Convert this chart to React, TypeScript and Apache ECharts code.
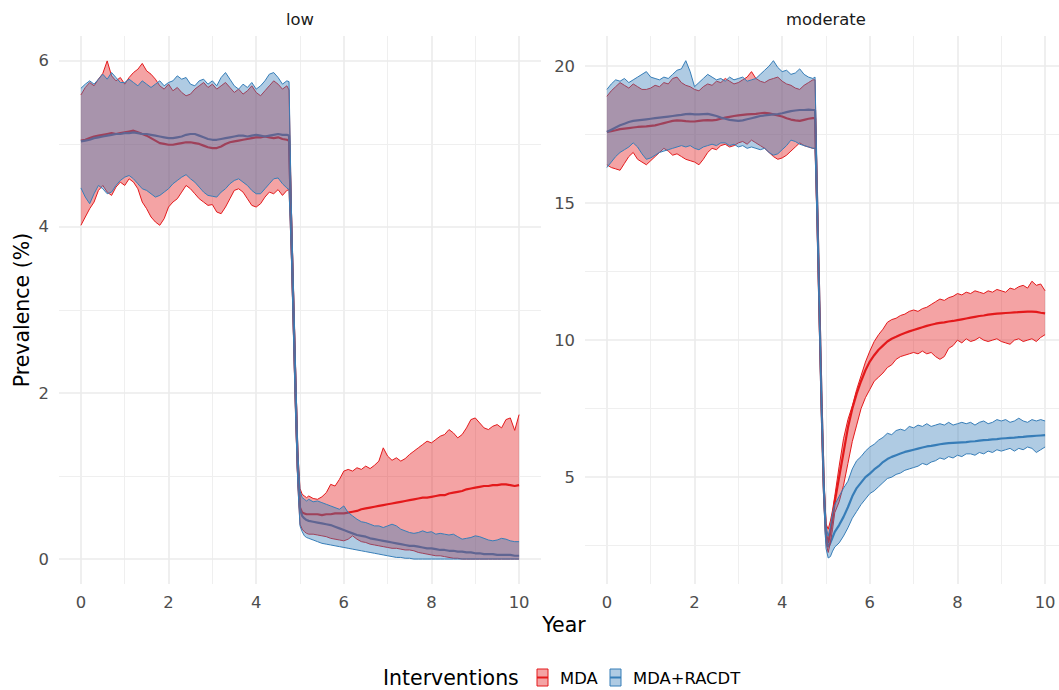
import React, { useEffect, useRef } from 'react';
import * as echarts from 'echarts';

const RED = '#E41A1C';
const BLUE = '#377EB8';
const RED_FILL = 'rgba(228,26,28,0.4)';
const BLUE_FILL = 'rgba(55,126,184,0.4)';
const FONT = 'DejaVu Sans';

const panelTitles = ['low', 'moderate'];
const interventions = ['MDA', 'MDA+RACDT'];
const xMajor = [0, 2, 4, 6, 8, 10];
const xMinor = [1, 3, 5, 7, 9];
const lowYMajor = [0, 2, 4, 6];
const lowYMinor = [1, 3, 5];
const modYMajor = [5, 10, 15, 20];
const modYMinor = [2.5, 7.5, 12.5, 17.5];

const years = [
  0, 0.1, 0.2, 0.3, 0.4, 0.5, 0.6, 0.7, 0.8, 0.9,
  1, 1.1, 1.2, 1.3, 1.4, 1.5, 1.6, 1.7, 1.8, 1.9,
  2, 2.1, 2.2, 2.3, 2.4, 2.5, 2.6, 2.7, 2.8, 2.9,
  3, 3.1, 3.2, 3.3, 3.4, 3.5, 3.6, 3.7, 3.8, 3.9,
  4, 4.1, 4.2, 4.3, 4.4, 4.5, 4.6, 4.7,
  4.75, 4.8, 4.85, 4.9, 4.95, 5, 5.05, 5.1, 5.15, 5.2,
  5.3, 5.4, 5.5, 5.6, 5.7, 5.8, 5.9,
  6, 6.1, 6.2, 6.3, 6.4, 6.5, 6.6, 6.7, 6.8, 6.9,
  7, 7.1, 7.2, 7.3, 7.4, 7.5, 7.6, 7.7, 7.8, 7.9,
  8, 8.1, 8.2, 8.3, 8.4, 8.5, 8.6, 8.7, 8.8, 8.9,
  9, 9.1, 9.2, 9.3, 9.4, 9.5, 9.6, 9.7, 9.8, 9.9,
  10,
];

// ---- low transmission ----
const lowMdaUpper = [
  5.59, 5.68, 5.74, 5.70, 5.78, 5.85, 6.00, 5.82, 5.76, 5.80,
  5.72, 5.80, 5.86, 5.90, 5.97, 5.88, 5.84, 5.78, 5.70, 5.66,
  5.72, 5.64, 5.68, 5.62, 5.58, 5.60, 5.66, 5.70, 5.74, 5.68,
  5.72, 5.66, 5.70, 5.74, 5.68, 5.62, 5.66, 5.60, 5.64, 5.70,
  5.62, 5.58, 5.64, 5.70, 5.76, 5.72, 5.66, 5.70,
  5.65, 4.3, 3.3, 2.3, 1.3, 0.85, 0.78, 0.76, 0.74, 0.76,
  0.73, 0.72, 0.75, 0.80, 0.90, 0.88, 0.96,
  1.06, 1.08, 1.06, 1.10, 1.08, 1.12, 1.09, 1.13, 1.18, 1.34,
  1.24, 1.19, 1.22, 1.18, 1.21, 1.26, 1.30, 1.34, 1.38, 1.42,
  1.40, 1.44, 1.48, 1.50, 1.56, 1.52, 1.46, 1.50, 1.58, 1.68,
  1.70, 1.64, 1.58, 1.56, 1.60, 1.62, 1.58, 1.68, 1.70, 1.55,
  1.74,
];
const lowMdaMedian = [
  5.04, 5.05, 5.07, 5.09, 5.10, 5.11, 5.12, 5.13, 5.12, 5.13,
  5.14, 5.15, 5.16, 5.14, 5.12, 5.10, 5.07, 5.04, 5.01, 5.00,
  4.99, 4.99, 5.00, 5.01, 5.02, 5.02, 5.01, 5.00, 4.98, 4.96,
  4.95, 4.95, 4.97, 5.00, 5.02, 5.03, 5.04, 5.05, 5.06, 5.07,
  5.08, 5.08, 5.09, 5.08, 5.07, 5.08, 5.06, 5.05,
  5.04, 4.0, 3.0, 2.0, 1.1, 0.62, 0.56, 0.55, 0.54, 0.54,
  0.54, 0.54, 0.53, 0.54, 0.54, 0.55, 0.55,
  0.55, 0.56, 0.57, 0.58, 0.60, 0.61, 0.62, 0.63, 0.64, 0.65,
  0.66, 0.67, 0.68, 0.69, 0.70, 0.71, 0.72, 0.73, 0.74, 0.74,
  0.75, 0.76, 0.77, 0.77, 0.79, 0.80, 0.81, 0.82, 0.84, 0.85,
  0.86, 0.87, 0.88, 0.88, 0.89, 0.89, 0.90, 0.90, 0.89, 0.88,
  0.89,
];
const lowMdaLower = [
  4.02, 4.12, 4.22, 4.30, 4.44, 4.50, 4.42, 4.38, 4.48, 4.54,
  4.50, 4.58, 4.54, 4.46, 4.30, 4.22, 4.12, 4.06, 4.02, 4.10,
  4.24, 4.30, 4.34, 4.42, 4.50, 4.46, 4.40, 4.34, 4.30, 4.26,
  4.27, 4.18, 4.16, 4.24, 4.34, 4.44, 4.46, 4.42, 4.34, 4.26,
  4.24, 4.28, 4.36, 4.42, 4.40, 4.45, 4.38, 4.44,
  4.45, 3.7, 2.7, 1.7, 0.9, 0.42, 0.36, 0.33, 0.31, 0.30,
  0.30, 0.29, 0.28, 0.27, 0.25, 0.24, 0.23,
  0.22, 0.24, 0.28, 0.24, 0.21, 0.20, 0.18, 0.17, 0.16, 0.15,
  0.14, 0.13, 0.13, 0.12, 0.11, 0.11, 0.10, 0.08, 0.07, 0.06,
  0.05, 0.04, 0.04, 0.03, 0.02, 0.01, 0.01, 0, 0, 0,
  0, 0, 0, 0, 0, 0, 0, 0, 0, 0,
  0,
];
const lowRacdtUpper = [
  5.67, 5.72, 5.76, 5.72, 5.78, 5.84, 5.78, 5.86, 5.80, 5.74,
  5.74, 5.78, 5.74, 5.70, 5.76, 5.72, 5.68, 5.72, 5.76, 5.70,
  5.74, 5.76, 5.82, 5.78, 5.80, 5.72, 5.70, 5.76, 5.78, 5.72,
  5.76, 5.70, 5.80, 5.86, 5.78, 5.70, 5.66, 5.72, 5.68, 5.74,
  5.66, 5.70, 5.76, 5.84, 5.86, 5.80, 5.72, 5.76,
  5.75, 4.3, 3.3, 2.3, 1.3, 0.82, 0.74, 0.72, 0.70, 0.72,
  0.69, 0.70, 0.68, 0.66, 0.64, 0.62, 0.60,
  0.64, 0.56, 0.52, 0.48, 0.45, 0.44, 0.42, 0.40, 0.40, 0.38,
  0.40, 0.42, 0.40, 0.36, 0.34, 0.32, 0.31, 0.32, 0.34, 0.32,
  0.33, 0.30, 0.31, 0.30, 0.29, 0.30, 0.27, 0.24, 0.25, 0.26,
  0.28, 0.27, 0.25, 0.23, 0.22, 0.23, 0.25, 0.24, 0.22, 0.21,
  0.21,
];
const lowRacdtMedian = [
  5.03, 5.04, 5.05, 5.07, 5.08, 5.09, 5.10, 5.11, 5.12, 5.12,
  5.13, 5.13, 5.14, 5.13, 5.12, 5.12, 5.11, 5.10, 5.09, 5.08,
  5.07, 5.07, 5.08, 5.09, 5.11, 5.12, 5.12, 5.10, 5.08, 5.06,
  5.05, 5.05, 5.06, 5.07, 5.08, 5.09, 5.10, 5.10, 5.09, 5.10,
  5.11, 5.10, 5.09, 5.10, 5.11, 5.12, 5.11, 5.11,
  5.1, 4.0, 3.0, 2.0, 1.1, 0.6, 0.52, 0.49, 0.47, 0.46,
  0.45, 0.44, 0.43, 0.42, 0.41, 0.39, 0.37,
  0.35, 0.33, 0.31, 0.29, 0.28, 0.27, 0.25, 0.24, 0.23, 0.22,
  0.21, 0.20, 0.19, 0.18, 0.17, 0.16, 0.16, 0.15, 0.14, 0.13,
  0.13, 0.12, 0.11, 0.11, 0.10, 0.10, 0.09, 0.09, 0.08, 0.08,
  0.07, 0.07, 0.06, 0.06, 0.06, 0.05, 0.05, 0.05, 0.05, 0.04,
  0.04,
];
const lowRacdtLower = [
  4.47, 4.36, 4.28, 4.40, 4.50, 4.46, 4.40, 4.42, 4.50, 4.56,
  4.60, 4.62, 4.58, 4.52, 4.46, 4.44, 4.40, 4.36, 4.38, 4.42,
  4.46, 4.52, 4.56, 4.60, 4.63, 4.58, 4.54, 4.48, 4.42, 4.38,
  4.37, 4.36, 4.42, 4.46, 4.52, 4.56, 4.58, 4.54, 4.50, 4.44,
  4.40, 4.40, 4.46, 4.52, 4.58, 4.59, 4.52, 4.47,
  4.45, 3.7, 2.7, 1.7, 0.9, 0.40, 0.33, 0.28, 0.26, 0.25,
  0.23, 0.21, 0.19, 0.18, 0.17, 0.16, 0.15,
  0.14, 0.13, 0.12, 0.11, 0.10, 0.09, 0.08, 0.07, 0.06, 0.05,
  0.04, 0.03, 0.02, 0.02, 0.01, 0.01, 0, 0, 0, 0,
  0, 0, 0, 0, 0, 0, 0, 0, 0, 0,
  0, 0, 0, 0, 0, 0, 0, 0, 0, 0,
  0,
];

// ---- moderate transmission ----
const modMdaUpper = [
  18.90, 19.10, 19.25, 19.40, 19.30, 19.20, 19.35, 19.25, 19.15, 19.15,
  19.20, 19.30, 19.25, 19.40, 19.35, 19.55, 19.60, 19.40, 19.30, 19.25,
  19.15, 19.10, 19.25, 19.35, 19.30, 19.45, 19.40, 19.55, 19.45, 19.35,
  19.40, 19.50, 19.60, 19.80, 19.55, 19.45, 19.40, 19.50, 19.55, 19.60,
  19.45, 19.35, 19.30, 19.20, 19.15, 19.30, 19.40, 19.50,
  19.5, 15.4, 11.6, 8.0, 5.0, 3.3, 3.1, 3.4, 3.8, 4.3,
  5.4, 6.4, 7.1, 7.6, 8.2, 8.7, 9.2,
  9.6, 9.95, 10.2, 10.4, 10.65, 10.75, 10.8, 10.9, 10.95, 11.05,
  11.1, 11.05, 11.15, 11.2, 11.3, 11.4, 11.5, 11.45, 11.55, 11.6,
  11.7, 11.65, 11.75, 11.7, 11.8, 11.75, 11.7, 11.8, 11.75, 11.85,
  11.8, 11.75, 11.9, 11.85, 11.95, 12.0, 11.9, 12.15, 12.0, 12.05,
  11.8,
];
const modMdaMedian = [
  17.60, 17.63, 17.66, 17.70, 17.72, 17.74, 17.76, 17.78, 17.79, 17.80,
  17.82, 17.84, 17.88, 17.92, 17.96, 18.00, 18.02, 18.01, 17.99, 17.98,
  17.98, 18.00, 18.02, 18.03, 18.02, 18.04, 18.08, 18.12, 18.15, 18.18,
  18.20, 18.22, 18.24, 18.25, 18.26, 18.28, 18.30, 18.28, 18.24, 18.20,
  18.16, 18.10, 18.05, 18.02, 18.00, 18.04, 18.08, 18.10,
  18.1, 14.8, 11.2, 7.6, 4.6, 2.9, 2.6, 3.0, 3.5, 4.1,
  5.0, 5.9, 6.8, 7.5, 8.05, 8.5, 8.9,
  9.22, 9.45, 9.65, 9.8, 9.95, 10.05, 10.12, 10.2, 10.26, 10.32,
  10.37, 10.42, 10.47, 10.52, 10.56, 10.6, 10.63, 10.65, 10.68, 10.7,
  10.73, 10.76, 10.79, 10.82, 10.85, 10.88, 10.9, 10.93, 10.95, 10.97,
  10.98, 10.99, 11.0, 11.01, 11.02, 11.03, 11.04, 11.04, 11.03, 11.0,
  10.98,
];
const modMdaLower = [
  16.40, 16.30, 16.25, 16.20, 16.45, 16.70, 16.85, 16.60, 16.50, 16.40,
  16.55, 16.70, 16.85, 17.00, 16.90, 16.75, 16.80, 16.70, 16.60, 16.55,
  16.50, 16.40, 16.60, 16.85, 17.00, 16.95, 17.10, 17.15, 17.05, 17.10,
  17.20, 17.25, 17.15, 17.30, 17.20, 17.10, 17.00, 16.85, 16.70, 16.60,
  16.65, 16.75, 16.90, 17.05, 17.20, 17.10, 17.05, 17.00,
  17.0, 14.0, 10.3, 7.0, 4.2, 2.6, 2.25, 2.6, 3.1, 3.7,
  4.1, 4.7, 5.5, 6.3, 6.9, 7.5, 7.9,
  8.2, 8.5, 8.65, 8.8, 9.0, 9.1, 9.3, 9.4, 9.45, 9.5,
  9.55, 9.5, 9.6, 9.5, 9.55, 9.4, 9.3, 9.4, 9.7, 9.8,
  10.0, 9.9, 10.05, 9.95, 10.0, 10.1, 10.0, 9.95, 10.0, 10.05,
  9.95, 9.9, 9.85, 10.0, 10.05, 9.95, 10.0, 10.05, 9.95, 10.1,
  10.2,
];
const modRacdtUpper = [
  19.15, 19.35, 19.50, 19.45, 19.55, 19.40, 19.50, 19.60, 19.70, 19.80,
  19.60, 19.55, 19.50, 19.60, 19.55, 19.70, 19.85, 19.90, 20.20, 19.80,
  19.25, 19.40, 19.55, 19.70, 19.60, 19.50, 19.55, 19.45, 19.60, 19.50,
  19.55, 19.60, 19.45, 19.50, 19.55, 19.70, 19.85, 20.00, 20.20, 19.95,
  19.80, 19.85, 19.70, 19.75, 19.90, 19.70, 19.60, 19.55,
  19.6, 15.4, 11.6, 8.0, 5.0, 3.2, 2.85, 3.2, 3.7, 4.0,
  4.3, 4.6, 4.85, 5.3, 5.6, 5.75, 5.95,
  6.1, 6.2, 6.35, 6.45, 6.6, 6.55, 6.7, 6.75, 6.7, 6.85,
  6.8, 6.9, 6.85, 6.95, 6.85, 6.9, 6.95, 6.9, 7.0, 6.9,
  6.95, 7.0, 6.95, 7.0, 6.9, 7.0, 7.05, 6.95, 7.0, 7.1,
  7.05, 7.1, 7.0, 7.05, 7.15, 7.05, 7.0, 7.1, 7.05, 7.1,
  7.05,
];
const modRacdtMedian = [
  17.60, 17.68, 17.76, 17.84, 17.90, 17.96, 18.00, 18.02, 18.04, 18.06,
  18.08, 18.10, 18.12, 18.14, 18.16, 18.18, 18.20, 18.22, 18.25, 18.26,
  18.24, 18.24, 18.25, 18.26, 18.22, 18.18, 18.12, 18.08, 18.04, 18.02,
  18.00, 18.02, 18.06, 18.10, 18.14, 18.18, 18.20, 18.22, 18.24, 18.25,
  18.28, 18.32, 18.36, 18.38, 18.40, 18.40, 18.41, 18.40,
  18.4, 14.9, 11.2, 7.6, 4.6, 2.8, 2.45, 2.6, 2.8, 3.0,
  3.25, 3.55, 3.9, 4.3, 4.6, 4.8, 5.0,
  5.13, 5.28, 5.4, 5.55, 5.66, 5.74, 5.8, 5.86, 5.92, 5.96,
  6.0, 6.04, 6.08, 6.12, 6.14, 6.17, 6.2, 6.22, 6.24, 6.25,
  6.26, 6.27, 6.28, 6.3, 6.31, 6.33, 6.35, 6.36, 6.38, 6.39,
  6.41, 6.42, 6.43, 6.44, 6.46, 6.47, 6.49, 6.5, 6.51, 6.52,
  6.53,
];
const modRacdtLower = [
  16.30, 16.50, 16.70, 16.85, 16.95, 17.05, 17.20, 17.05, 16.80, 16.60,
  16.65, 16.75, 16.85, 16.90, 16.95, 17.00, 17.05, 17.10, 17.05, 17.10,
  17.00, 16.95, 17.05, 17.10, 17.15, 17.10, 17.20, 17.20, 17.10, 17.15,
  17.05, 17.10, 17.00, 17.05, 17.00, 16.95, 17.00, 16.85, 16.75, 16.80,
  16.95, 17.10, 17.30, 17.25, 17.15, 17.10, 17.05, 17.00,
  17.0, 14.0, 10.4, 7.0, 4.2, 2.4, 2.05, 2.1, 2.3, 2.45,
  2.6, 2.85, 3.15, 3.5, 3.75, 4.0, 4.2,
  4.4, 4.5, 4.65, 4.8, 4.95, 5.0, 5.1, 5.15, 5.25, 5.3,
  5.35, 5.4, 5.5, 5.45, 5.55, 5.6, 5.7, 5.65, 5.75, 5.7,
  5.8, 5.75, 5.85, 5.85, 5.8, 5.9, 5.85, 5.95, 5.9, 6.0,
  5.95, 6.0, 6.05, 5.95, 6.05, 6.0, 6.1, 6.05, 5.9, 6.0,
  6.1,
];

const pts = (v: number[]) => years.map((x, i) => [x, v[i]]);

type Panel = {
  mda: [number[], number[], number[]];
  racdt: [number[], number[], number[]];
  yMajor: number[];
  yMinor: number[];
};

const panels: Panel[] = [
  { mda: [lowMdaLower, lowMdaMedian, lowMdaUpper], racdt: [lowRacdtLower, lowRacdtMedian, lowRacdtUpper], yMajor: lowYMajor, yMinor: lowYMinor },
  { mda: [modMdaLower, modMdaMedian, modMdaUpper], racdt: [modRacdtLower, modRacdtMedian, modRacdtUpper], yMajor: modYMajor, yMinor: modYMinor },
];

function buildSeries(g: number, p: Panel): any[] {
  const ax = { xAxisIndex: g, yAxisIndex: g };
  const major = { color: '#EBEBEB', width: 1.6, type: 'solid' };
  const minor = { color: '#EFEFEF', width: 1.0, type: 'solid' };
  const gridHolder = {
    type: 'line', ...ax, data: pts(p.mda[1]), symbol: 'none', silent: true,
    lineStyle: { opacity: 0 }, z: 1,
    markLine: {
      silent: true, z: 1, symbol: ['none', 'none'], label: { show: false }, animation: false,
      data: [
        ...xMajor.map((v) => ({ xAxis: v, lineStyle: major })),
        ...xMinor.map((v) => ({ xAxis: v, lineStyle: minor })),
        ...p.yMajor.map((v) => ({ yAxis: v, lineStyle: major })),
        ...p.yMinor.map((v) => ({ yAxis: v, lineStyle: minor })),
      ],
    },
  };
  const line = (name: string, v: number[], color: string) => ({
    type: 'line', name, ...ax, data: pts(v), symbol: 'none', silent: true, z: 2,
    lineStyle: { color, width: 2.2 },
  });
  const band = (name: string, lo: number[], hi: number[], color: string, fill: string, z: number) => ({
    type: 'custom', name, ...ax, z, silent: true, clip: true,
    data: years.map((x, i) => [x, lo[i], hi[i]]),
    encode: { x: 0, y: [1, 2] },
    renderItem: (params: any, api: any) => {
      if (params.dataIndex !== 0) return null;
      const up = hi.map((v, i) => api.coord([years[i], v]));
      const dn = lo.map((v, i) => api.coord([years[i], v]));
      return {
        type: 'group',
        children: [
          { type: 'polygon', shape: { points: [...up, ...dn.slice().reverse()] }, style: { fill, stroke: null } },
          { type: 'polyline', shape: { points: up }, style: { fill: null, stroke: color, lineWidth: 1 } },
          { type: 'polyline', shape: { points: dn }, style: { fill: null, stroke: color, lineWidth: 1 } },
        ],
      };
    },
  });
  return [
    gridHolder,
    line(interventions[0], p.mda[1], RED),
    line(interventions[1], p.racdt[1], BLUE),
    band(interventions[0], p.mda[0], p.mda[2], RED, RED_FILL, 3),
    band(interventions[1], p.racdt[0], p.racdt[2], BLUE, BLUE_FILL, 4),
  ];
}

const nearMultiple = (v: number, step: number) => {
  const r = Math.round(v / step) * step;
  return Math.abs(v - r) < 1e-6 ? String(Math.round(r)) : '';
};

const tickText = { color: '#4D4D4D', fontSize: 16.4, fontFamily: FONT };

export default function App() {
  const ref = useRef<HTMLDivElement>(null);
  useEffect(() => {
    if (!ref.current) return;
    const chart = echarts.init(ref.current, undefined, { renderer: 'svg' });
    const gridW = 482;
    const grids = [
      { left: 59, top: 36, width: gridW, height: 548, outerBoundsMode: 'none' },
      { left: 585, top: 36, width: gridW, height: 548, outerBoundsMode: 'none' },
    ];
    const xAxes = [0, 1].map((g) => ({
      type: 'value', gridIndex: g, min: -0.5, max: 10.5, interval: 0.5,
      axisLine: { show: false }, axisTick: { show: false }, splitLine: { show: false },
      axisLabel: { ...tickText, margin: 10, formatter: (v: number) => nearMultiple(v, 2) },
    }));
    const yAxes = [
      {
        type: 'value', gridIndex: 0, min: -0.3, max: 6.3, interval: 0.1,
        axisLine: { show: false }, axisTick: { show: false }, splitLine: { show: false },
        axisLabel: { ...tickText, margin: 10, formatter: (v: number) => nearMultiple(v, 2) },
      },
      {
        type: 'value', gridIndex: 1, min: 1.1, max: 21.1, interval: 0.1,
        axisLine: { show: false }, axisTick: { show: false }, splitLine: { show: false },
        axisLabel: { ...tickText, margin: 10, formatter: (v: number) => nearMultiple(v, 5) },
      },
    ];
    const series = [...buildSeries(0, panels[0]), ...buildSeries(1, panels[1])];

    const keyY = 669;
    const graphic: any[] = [
      { type: 'text', x: 59 + gridW / 2, y: 19, style: { text: panelTitles[0], textAlign: 'center', textVerticalAlign: 'middle', fontSize: 16.4, fontFamily: FONT, fill: '#1A1A1A' } },
      { type: 'text', x: 585 + gridW / 2, y: 19, style: { text: panelTitles[1], textAlign: 'center', textVerticalAlign: 'middle', fontSize: 16.4, fontFamily: FONT, fill: '#1A1A1A' } },
      { type: 'text', x: 564, y: 625, style: { text: 'Year', textAlign: 'center', textVerticalAlign: 'middle', fontSize: 20.5, fontFamily: FONT, fill: '#000' } },
      { type: 'text', x: 22, y: 310, rotation: Math.PI / 2, style: { text: 'Prevalence (%)', textAlign: 'center', textVerticalAlign: 'middle', fontSize: 20.5, fontFamily: FONT, fill: '#000' } },
      { type: 'text', x: 383, y: 678, style: { text: 'Interventions', textAlign: 'left', textVerticalAlign: 'middle', fontSize: 20.5, fontFamily: FONT, fill: '#000' } },
      { type: 'rect', shape: { x: 537, y: keyY, width: 11, height: 17 }, style: { fill: RED_FILL, stroke: RED, lineWidth: 1 } },
      { type: 'line', shape: { x1: 537, y1: keyY + 8.5, x2: 548, y2: keyY + 8.5 }, style: { stroke: RED, lineWidth: 2 } },
      { type: 'text', x: 560, y: 678, style: { text: interventions[0], textAlign: 'left', textVerticalAlign: 'middle', fontSize: 16.4, fontFamily: FONT, fill: '#000' } },
      { type: 'rect', shape: { x: 610, y: keyY, width: 11, height: 17 }, style: { fill: BLUE_FILL, stroke: BLUE, lineWidth: 1 } },
      { type: 'line', shape: { x1: 610, y1: keyY + 8.5, x2: 621, y2: keyY + 8.5 }, style: { stroke: BLUE, lineWidth: 2 } },
      { type: 'text', x: 633, y: 678, style: { text: interventions[1], textAlign: 'left', textVerticalAlign: 'middle', fontSize: 16.4, fontFamily: FONT, fill: '#000' } },
    ];

    chart.setOption({
      animation: false,
      backgroundColor: '#FFFFFF',
      grid: grids,
      xAxis: xAxes,
      yAxis: yAxes,
      series,
      graphic,
    });
    return () => chart.dispose();
  }, []);
  return <div ref={ref} style={{ position: 'absolute', left: 0, top: 0, width: 1059, height: 690 }} />;
}
